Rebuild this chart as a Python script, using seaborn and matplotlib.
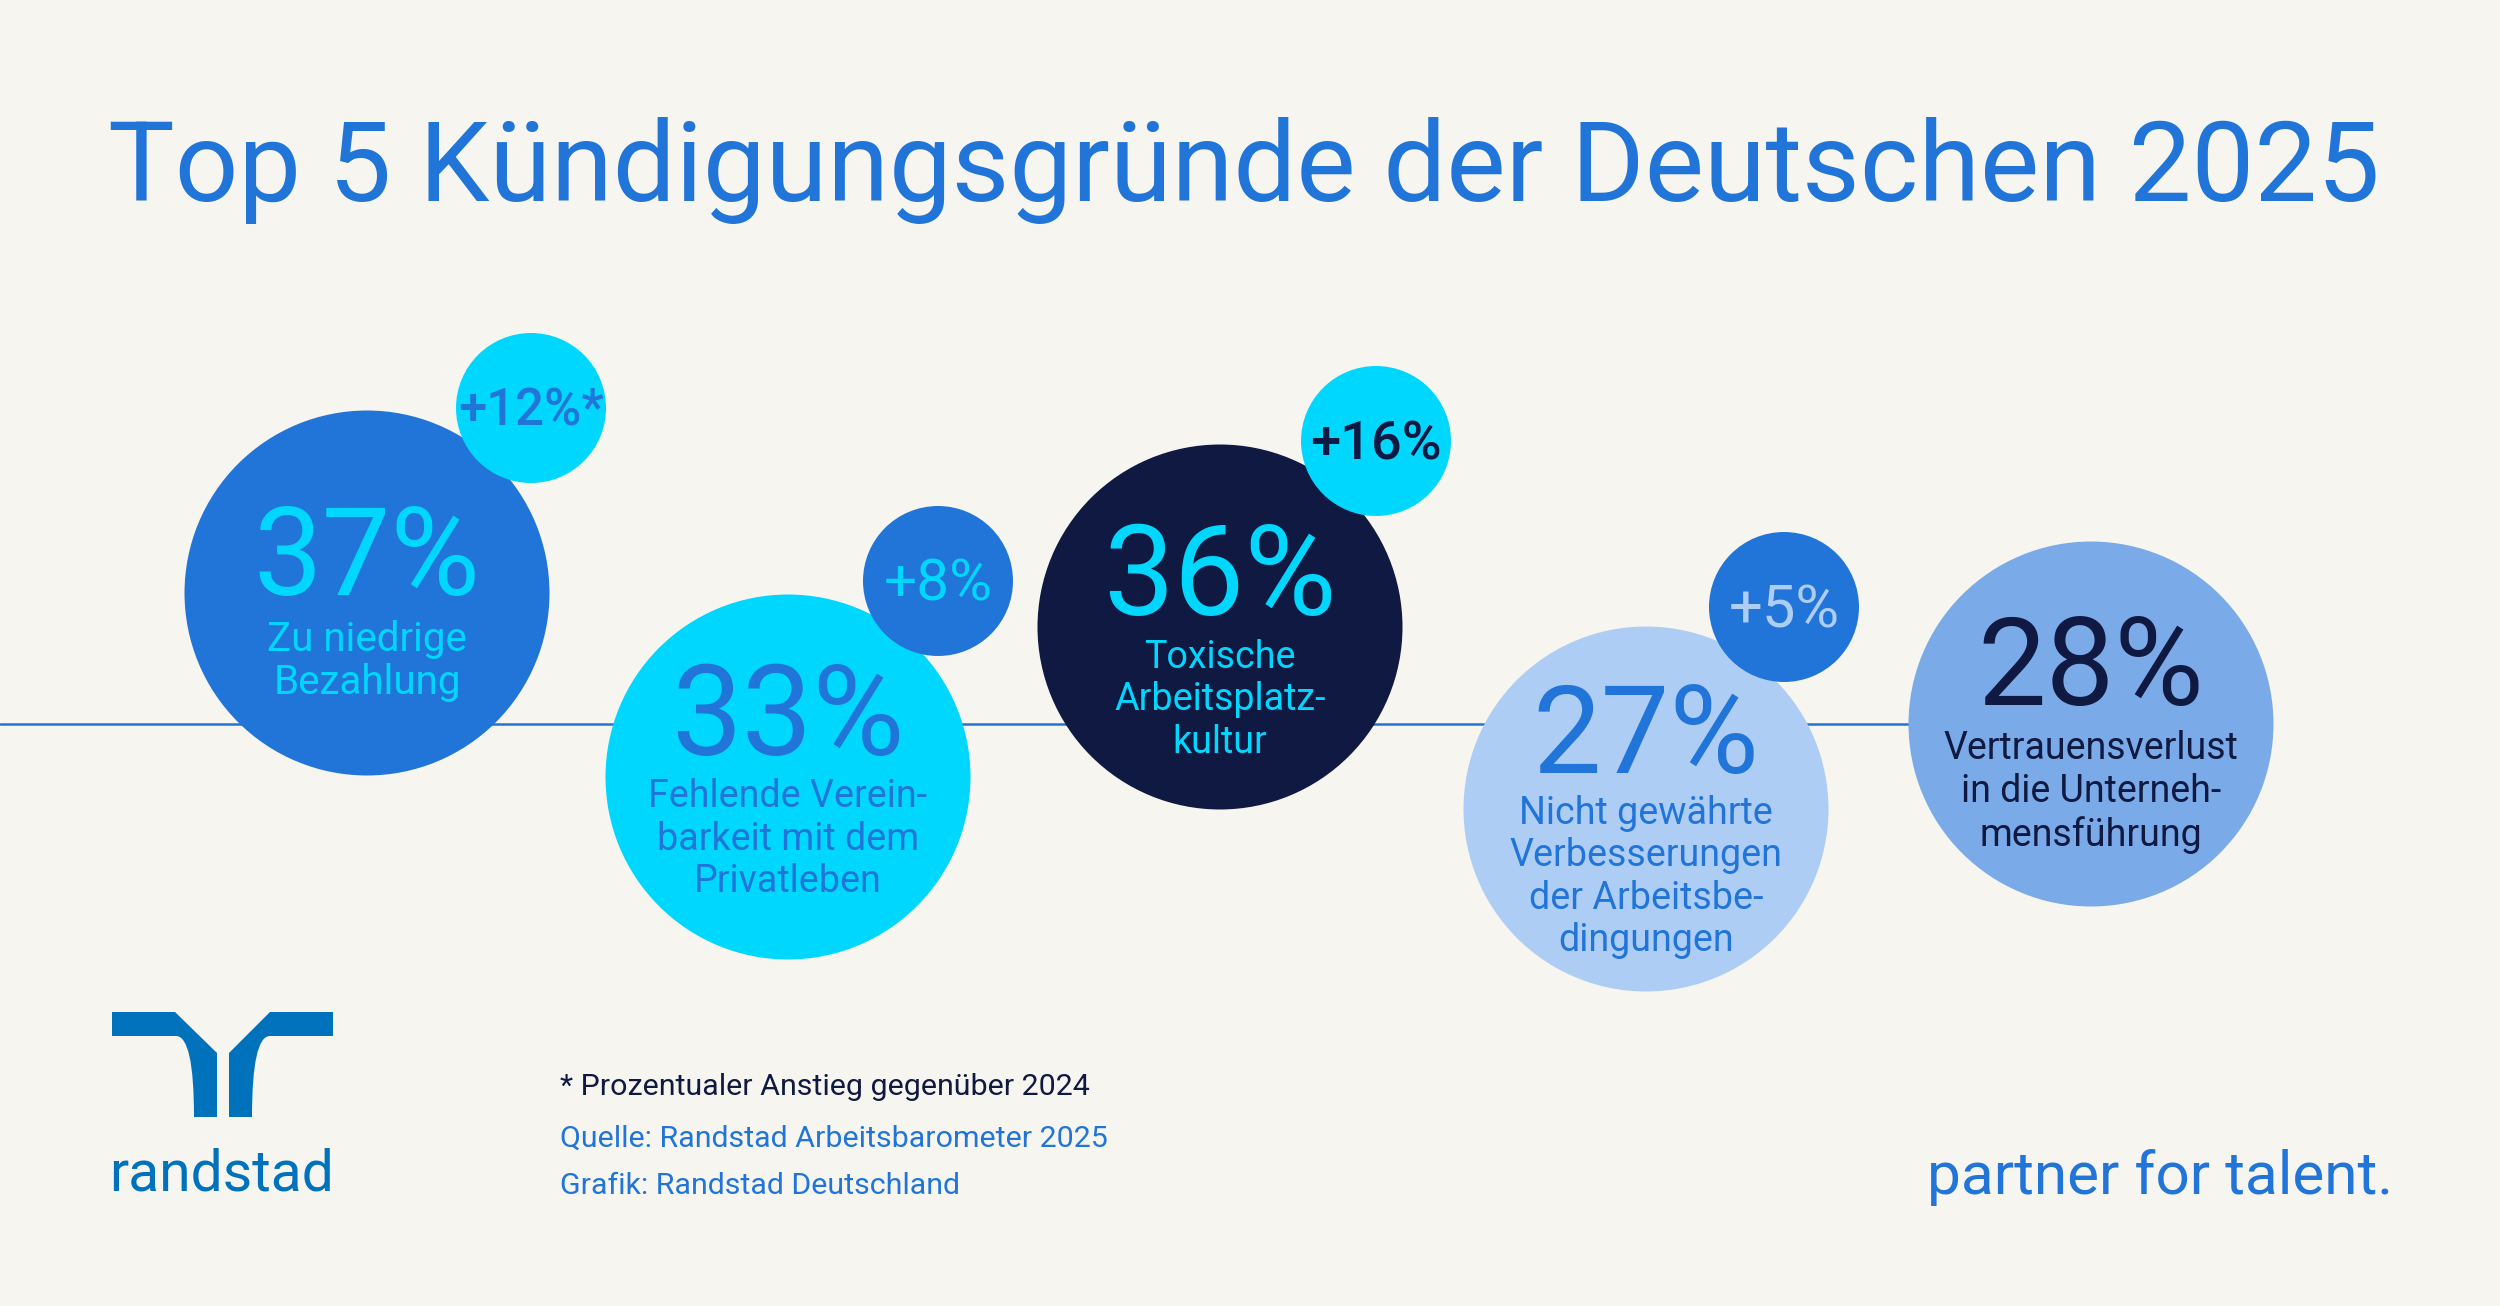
import numpy as np
import pandas as pd
import matplotlib.pyplot as plt
from matplotlib.path import Path
from matplotlib.patches import PathPatch
import seaborn as sns

BG = '#F7F5F0'
BLUE = '#2175D9'
CYAN = '#00D7FF'
NAVY = '#0F1941'
MID = '#7AABE8'
PALE = '#AECDF4'
LOGO = '#0072BC'

# the five reasons
share = [37, 33, 36, 27, 28]
reasons = ['Zu niedrige\nBezahlung',
           'Fehlende Verein-\nbarkeit mit dem\nPrivatleben',
           'Toxische\nArbeitsplatz-\nkultur',
           'Nicht gewährte\nVerbesserungen\nder Arbeitsbe-\ndingungen',
           'Vertrauensverlust\nin die Unterneh-\nmensführung']
rise_labels = ['+12%*', '+8%', '+16%', '+5%']

# layout, in pixels of the 2500x1306 canvas
big_x = [367, 788, 1220, 1646, 2091]
big_y = [593, 777, 627, 809, 724]
big_fill = [BLUE, CYAN, NAVY, PALE, MID]
big_text = [CYAN, BLUE, CYAN, BLUE, NAVY]
share_y = [562, 720, 580, 740, 672]
share_font = [88, 90.5, 90.5, 88, 88]
reason_y = [661, 839, 700, 877, 792]
reason_font = [29, 27.1, 27.1, 27.1, 27]

small_x = [531, 938, 1376, 1784]
small_y = [408, 581, 441, 607]
small_fill = [CYAN, BLUE, CYAN, BLUE]
small_text = [BLUE, CYAN, NAVY, PALE]
small_font = [36.5, 42, 39, 43]
small_weight = ['medium', 'regular', 'medium', 'regular']

BIG_S = (2 * 182.5 * 0.72) ** 2
SMALL_S = (2 * 75 * 0.72) ** 2

sns.set_theme(style='white')
plt.rcParams['font.family'] = ['Roboto', 'DejaVu Sans']

fig = plt.figure(figsize=(25, 13.06), dpi=100, facecolor=BG)
ax = fig.add_axes([0, 0, 1, 1])
ax.set_xlim(0, 2500)
ax.set_ylim(1306, 0)
ax.axis('off')

sns.lineplot(x=[0, 1950], y=[724, 724], color=BLUE, linewidth=1.8, ax=ax, zorder=1)

big = pd.DataFrame({'x': big_x, 'y': big_y, 'share': share})
sns.scatterplot(data=big, x='x', y='y', hue='share', palette=dict(zip(share, big_fill)),
                s=BIG_S, linewidth=0, legend=False, ax=ax, zorder=2)

small = pd.DataFrame({'x': small_x, 'y': small_y, 'label': rise_labels})
sns.scatterplot(data=small, x='x', y='y', hue='label', palette=dict(zip(rise_labels, small_fill)),
                s=SMALL_S, linewidth=0, legend=False, ax=ax, zorder=3)

for i in range(5):
    ax.text(big_x[i], share_y[i], f'{share[i]}%', color=big_text[i], fontsize=share_font[i],
            ha='center', va='center', zorder=4)
    ax.text(big_x[i], reason_y[i], reasons[i], color=big_text[i], fontsize=reason_font[i],
            ha='center', va='center', linespacing=1.19 * 27.1 / reason_font[i], zorder=4)

for i in range(4):
    ax.text(small_x[i], small_y[i] + 4, rise_labels[i], color=small_text[i], fontsize=small_font[i],
            fontweight=small_weight[i], ha='center', va='center', zorder=4)

ax.text(108, 171, 'Top 5 Kündigungsgründe der Deutschen 2025', color=BLUE, fontsize=80.5,
        ha='left', va='center')

ax.text(560, 1087, '* Prozentualer Anstieg gegenüber 2024', color=NAVY, fontsize=21.9, va='center')
ax.text(560, 1139, 'Quelle: Randstad Arbeitsbarometer 2025', color=BLUE, fontsize=21.9, va='center')
ax.text(560, 1186, 'Grafik: Randstad Deutschland', color=BLUE, fontsize=21.9, va='center')
ax.text(2393, 1177, 'partner for talent.', color=BLUE, fontsize=43.5, ha='right', va='center')

# logo
C = Path.CURVE3
L = Path.LINETO
M = Path.MOVETO
left_arm = Path([(112, 1012), (175, 1012), (217, 1053), (217, 1117), (194, 1117), (194, 1036),
                 (176, 1036), (112, 1036), (112, 1012)],
                [M, L, L, L, L, C, C, L, L])
right_arm = Path([(333, 1012), (270, 1012), (229, 1053), (229, 1117), (252, 1117), (252, 1036),
                  (270, 1036), (333, 1036), (333, 1012)],
                 [M, L, L, L, L, C, C, L, L])
ax.add_patch(PathPatch(left_arm, facecolor=LOGO, edgecolor='none'))
ax.add_patch(PathPatch(right_arm, facecolor=LOGO, edgecolor='none'))
ax.text(222, 1175, 'randstad', color=LOGO, fontsize=41, ha='center', va='center')

fig.savefig('out.png', dpi=100, facecolor=BG)
